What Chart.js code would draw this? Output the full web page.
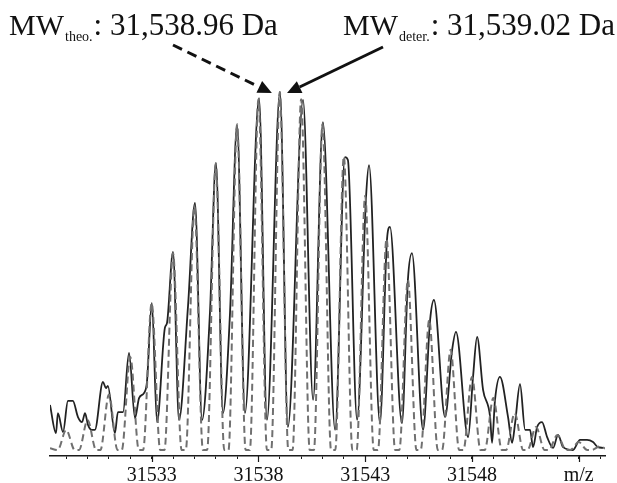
<!DOCTYPE html>
<html>
<head>
<meta charset="utf-8">
<script src="https://cdn.jsdelivr.net/npm/chart.js@4.4.1/dist/chart.umd.min.js"></script>
<style>
  html, body { margin: 0; padding: 0; background: #fff; }
</style>
</head>
<body>
<canvas id="chart" width="617" height="483"></canvas>
<script>
// theoretical isotope pattern (dashed), m/z vs relative intensity
var theoMass = [31528.24,
  31528.6, 31529, 31529.4,  31529.6, 31530, 31530.4,  31530.6, 31531, 31531.4,
  31531.6, 31532, 31532.4,  31532.6, 31533, 31533.4,  31533.6, 31534, 31534.4,
  31534.6, 31535, 31535.4,  31535.6, 31536, 31536.4,  31536.6, 31537, 31537.4,
  31537.6, 31538, 31538.4,  31538.6, 31539, 31539.4,  31539.6, 31540, 31540.4,
  31540.6, 31541, 31541.4,  31541.6, 31542, 31542.4,  31542.6, 31543, 31543.4,
  31543.6, 31544, 31544.4,  31544.6, 31545, 31545.4,  31545.6, 31546, 31546.4,
  31546.6, 31547, 31547.4,  31547.6, 31548, 31548.4,  31548.6, 31549, 31549.4,
  31549.6, 31550, 31550.4,  31550.6, 31551, 31551.4,  31551.6, 31552, 31552.4,
  31552.6, 31553, 31553.4,  31553.6, 31554, 31554.23];
var theoInt = [0.5,
  0, 5.6, 0,   0, 8.4, 0,   0, 15.5, 0,
  0, 26, 0,    0, 41, 0,    0, 55, 0,
  0, 68, 0,    0, 80, 0,    0, 91, 0,
  0, 98, 0,    0, 100, 0,   0, 98, 0,
  0, 91, 0,    0, 82, 0,    0, 71, 0,
  0, 59, 0,    0, 47.5, 0,  0, 36.3, 0,
  0, 28, 0,    0, 20.4, 0,  0, 14.5, 0,
  0, 10.3, 0,  0, 6.4, 0,   0, 4.2, 0,
  0, 2.2, 0,   0, 1.0, 0.4];

// measured spectrum (solid)
var expMass = [31528.24, 31528.52, 31528.61, 31528.85, 31529.08, 31529.31, 31529.55, 31529.74,
  31529.88, 31530.02, 31530.20, 31530.34, 31530.72, 31530.86, 31530.95, 31531.28, 31531.42,
  31531.66, 31531.94, 31532.22, 31532.41, 31532.64, 31532.78, 31533.01, 31533.25, 31533.62,
  31533.72, 31534.00, 31534.28, 31534.70, 31535.03, 31535.36, 31535.73, 31536.01, 31536.34,
  31536.67, 31537.00, 31537.37, 31538.03, 31538.40, 31539.01, 31539.38, 31540.09, 31540.56,
  31541.02, 31541.59, 31542.05, 31542.19, 31542.62, 31543.04, 31543.18, 31543.69, 31544.02,
  31544.16, 31544.72, 31545.00, 31545.19, 31545.71, 31546.04, 31546.22, 31546.74, 31547.07,
  31547.25, 31547.82, 31548.05, 31548.24, 31548.52, 31548.85, 31548.94, 31549.08, 31549.31,
  31549.69, 31549.88, 31550.02, 31550.25, 31550.49, 31550.72, 31550.86, 31551.05, 31551.28,
  31551.52, 31551.80, 31552.03, 31552.27, 31552.73, 31553.06, 31553.39, 31553.67, 31553.90,
  31554.14];
var expInt = [12.6, 4.7, 10.3, 5.0, 13.7, 13.7, 9.2, 7.8,
  10.3, 7.0, 5.6, 5.6, 19.0, 17.3, 17.9, 4.7, 10.6,
  10.6, 27.1, 8.9, 14.5, 15.9, 19.0, 41.1, 7.8, 34.1,
  35.5, 55.3, 8.4, 39.9, 69.0, 8.4, 38.3, 80.2, 10.3,
  38.3, 90.8, 10.3, 98.3, 8.4, 100, 6.4, 97.8, 14.0,
  91.6, 5.6, 81.8, 81.0, 8.4, 70.7, 79.6, 7.5, 58.7,
  62.3, 7.5, 47.5, 55.0, 5.6, 36.3, 41.9, 9.2, 27.9,
  33.0, 3.6, 20.4, 31.6, 16.8, 9.2, 2.0, 14.0, 20.4,
  9.2, 2.0, 7.5, 18.4, 5.6, 5.6, 0.8, 6.4, 7.8,
  3.6, 0.6, 4.2, 0.8, 0, 2.8, 2.8, 2.2, 0.8,
  0.6];

var labelTicks = [31533, 31538, 31543, 31548, 31553];
var labelTexts = ['31533', '31538', '31543', '31548', 'm/z'];

var mwTheo = 31538.96, mwDeter = 31539.02;
var arrowTipMass = [31538.63, 31539.34];
var arrowTipInt = 99.7;

var serif = '"Liberation Serif", "Times New Roman", serif';

function pts(xs, ys) {
  return xs.map(function (x, i) { return {x: x, y: ys[i]}; });
}
function fmt(v) {
  return v.toLocaleString('en-US', {minimumFractionDigits: 2, maximumFractionDigits: 2});
}

function mwLabel(ctx, x, base, sub, value) {
  ctx.font = '30px ' + serif;
  ctx.fillText('MW', x, base);
  var w = ctx.measureText('MW').width + 1;
  ctx.font = '14px ' + serif;
  ctx.fillText(sub, x + w, base + 6);
  w += ctx.measureText(sub).width + 1;
  ctx.font = '31px ' + serif;
  ctx.fillText(': ' + fmt(value) + ' Da', x + w, base);
}

function arrow(ctx, x0, y0, x1, y1, dashed) {
  var a = Math.atan2(y1 - y0, x1 - x0), len = 14, hw = 6.5;
  var bx = x1 - len * Math.cos(a), by = y1 - len * Math.sin(a);
  ctx.save();
  ctx.strokeStyle = '#111';
  ctx.fillStyle = '#111';
  ctx.lineWidth = 3;
  if (dashed) ctx.setLineDash([10, 6]);
  ctx.beginPath();
  ctx.moveTo(x0, y0);
  ctx.lineTo(bx, by);
  ctx.stroke();
  ctx.setLineDash([]);
  ctx.beginPath();
  ctx.moveTo(x1, y1);
  ctx.lineTo(bx + hw * Math.sin(a), by - hw * Math.cos(a));
  ctx.lineTo(bx - hw * Math.sin(a), by + hw * Math.cos(a));
  ctx.closePath();
  ctx.fill();
  ctx.restore();
}

var annotations = {
  id: 'annotations',
  afterDraw: function (chart) {
    var ctx = chart.ctx, xs = chart.scales.x, ys = chart.scales.y;
    var bottom = chart.chartArea.bottom;
    ctx.save();
    // longer tick marks under the labelled masses
    ctx.strokeStyle = '#1a1a1a';
    ctx.lineWidth = 1.2;
    labelTicks.forEach(function (v) {
      var px = Math.round(xs.getPixelForValue(v)) + 0.5;
      ctx.beginPath();
      ctx.moveTo(px, bottom);
      ctx.lineTo(px, bottom + 6);
      ctx.stroke();
    });
    ctx.fillStyle = '#111';
    ctx.textBaseline = 'alphabetic';
    mwLabel(ctx, 9, 35, 'theo.', mwTheo);
    mwLabel(ctx, 343, 35, 'deter.', mwDeter);
    var ty = ys.getPixelForValue(arrowTipInt);
    arrow(ctx, 173, 45, xs.getPixelForValue(arrowTipMass[0]), ty, true);
    arrow(ctx, 383, 47, xs.getPixelForValue(arrowTipMass[1]), ty, false);
    ctx.restore();
  }
};

var ctx = document.getElementById('chart').getContext('2d');

var myChart = new Chart(ctx, {
  type: 'line',
  data: {
    datasets: [{
      label: 'theoretical',
      data: pts(theoMass, theoInt),
      borderColor: '#707070',
      borderWidth: 2,
      borderDash: [7, 4],
      pointRadius: 0,
      cubicInterpolationMode: 'monotone',
      fill: false
    }, {
      label: 'measured',
      data: pts(expMass, expInt),
      borderColor: '#222',
      borderWidth: 1.8,
      pointRadius: 0,
      cubicInterpolationMode: 'monotone',
      fill: false
    }]
  },
  options: {
    responsive: false,
    animation: false,
    layout: { padding: { left: 50, right: 12, top: 60, bottom: 0 } },
    plugins: { legend: { display: false }, tooltip: { enabled: false } },
    scales: {
      x: {
        type: 'linear',
        min: 31528.24,
        max: 31554.23,
        afterBuildTicks: function (axis) {
          var t = [];
          for (var v = 31529; v <= 31554; v++) t.push({value: v});
          axis.ticks = t;
        },
        afterFit: function (axis) {
          axis.height = 27;
        },
        border: { display: true, color: '#1a1a1a', width: 1.5 },
        grid: { display: true, drawOnChartArea: false, drawTicks: true, tickLength: 3, tickColor: '#1a1a1a', tickWidth: 1 },
        ticks: {
          autoSkip: false,
          maxRotation: 0,
          minRotation: 0,
          padding: 7,
          color: '#111',
          font: { family: serif, size: 20, lineHeight: 1 },
          callback: function (v) {
            var i = labelTicks.indexOf(v);
            return i >= 0 ? labelTexts[i] : '';
          }
        }
      },
      y: {
        display: false,
        min: -1.68,
        max: 108.94
      }
    }
  },
  plugins: [annotations]
});
</script>
</body>
</html>
